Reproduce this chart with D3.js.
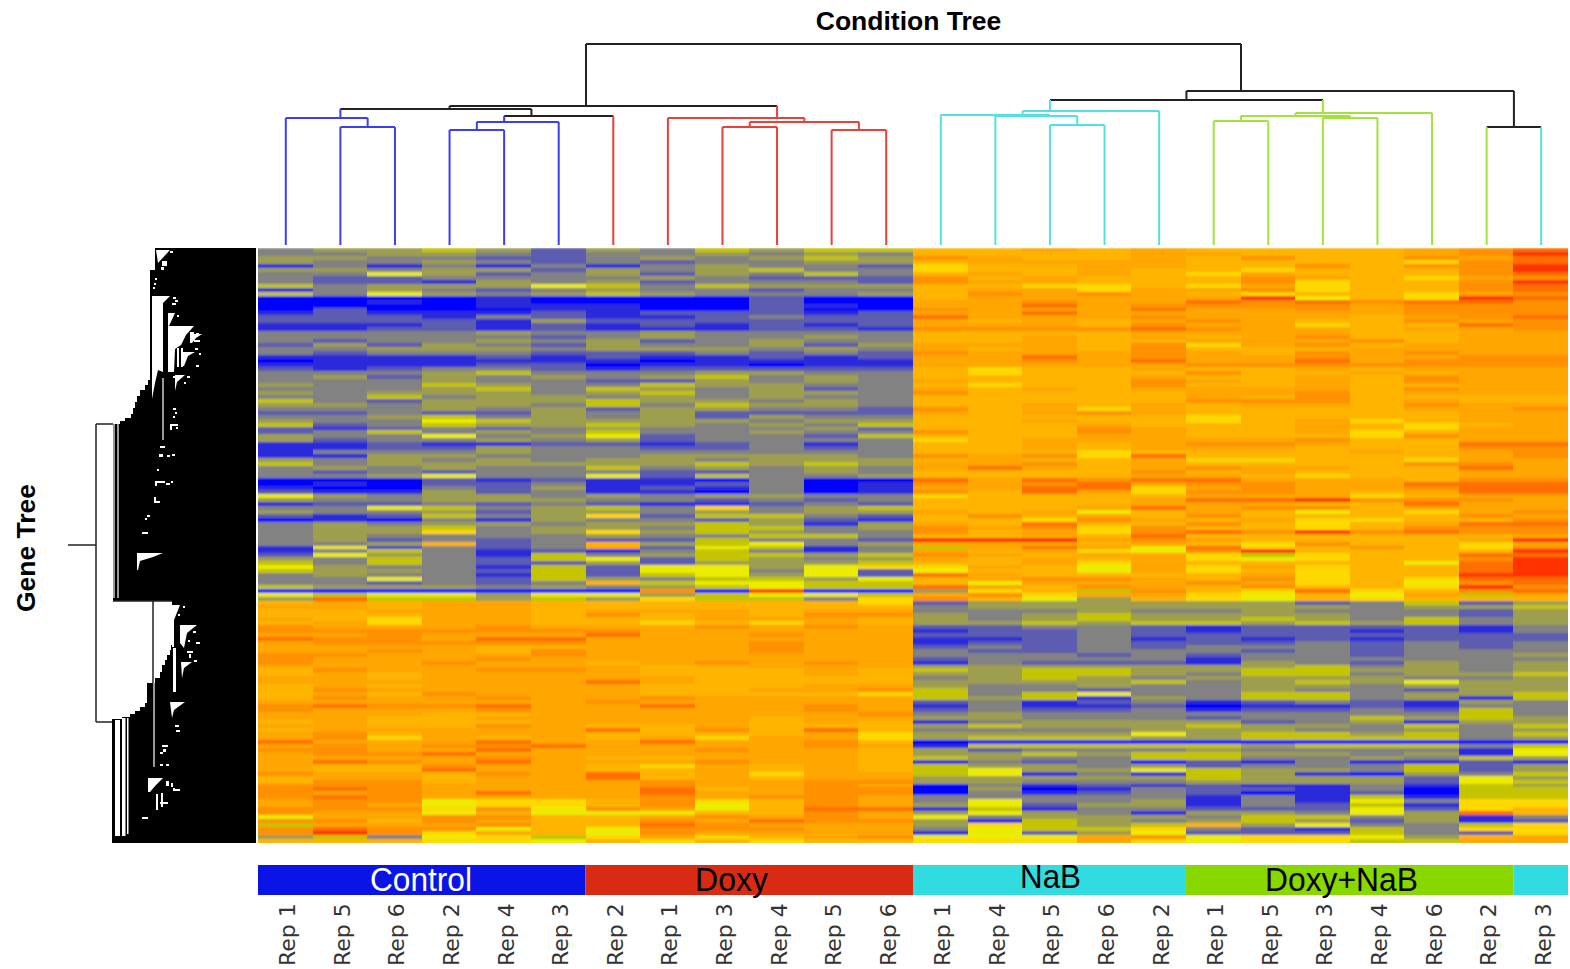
<!DOCTYPE html>
<html>
<head>
<meta charset="utf-8">
<title>Condition Tree</title>
<script src="https://cdn.jsdelivr.net/npm/d3@7"></script>
<style>
  html, body { margin: 0; background: #fff; overflow: hidden; }
  svg { display: block; }
</style>
</head>
<body>
<div id="chart"></div>
<script>
"use strict";

// one label per heatmap column, left to right
var repLabels = ["Rep 1","Rep 5","Rep 6","Rep 2","Rep 4","Rep 3",
                 "Rep 2","Rep 1","Rep 3","Rep 4","Rep 5","Rep 6",
                 "Rep 1","Rep 4","Rep 5","Rep 6","Rep 2",
                 "Rep 1","Rep 5","Rep 3","Rep 4","Rep 6","Rep 2",
                 "Rep 3"];
var colGroups = ["Control","Control","Control","Control","Control","Control",
                 "Doxy","Doxy","Doxy","Doxy","Doxy","Doxy",
                 "NaB","NaB","NaB","NaB","NaB",
                 "Doxy+NaB","Doxy+NaB","Doxy+NaB","Doxy+NaB","Doxy+NaB","Doxy+NaB",
                 "NaB"];

// [merge height, left, right], a plain number is a column index
var conditionTree = [201,
  [139,
    [136, [127, 0, [118, 1, 2]], [129, [123, [115, 3, 4], 5], 6]],
    [127, 7, [123, [118, 8, 9], [115, 10, 11]]]],
  [154,
    [145,
      [134, [130, 12, [129, 13, [120, 14, 15]]], 16],
      [132, [129, [124, 17, 18], [127, 19, 20]], 21]],
    [118, 22, 23]]];

// expression levels, one hex digit per cell (0 = low ... c = high)
var upperLeft = [
"344542435455","334432334343","443322343454","433432323344","131313134332",
"443442434533","336423424353","322333343222","322143423332","534446535444",
"134323433233","536434543334","000010000200","001010000200","000011100210",
"020001100200","121112122212","222132112322","222214222222","111212121212",
"112212111221","333343343333","333332343343","323343423433","242432433424",
"334443444343","323332223232","111121211212","011111101111","111122011011",
"212332122222","333453334433","342434345343","333433224343","433543354433",
"333453543423","434443453443","335344343433","532444544343","443443535443",
"333434244332","223224342222","334534342433","433654444344","523544543435",
"212323433342","235343533433","433634623325","423343423333","112112212313",
"112243322323","133343333333","114433344443","434343443444","534444445454",
"343433534343","323233322343","334633625334","000212110300","010223112301",
"100324121301","211423110301","643443434433","433444332323","122323211232",
"336534537345","433424434344","212534725532","010314332421","343443445414",
"344534435534","344734745433","343333433553","342323225332","334823845634",
"161323926513","135312135313","264315345545","435325625434","535322424445",
"643315266467","544325266362","343315256462","336325435546","332323856655",
"544434345655","0000000a0c00","656646645665","4b5545475537"];

var upperRight = [
"8898988889ab","8888998889ac","a98898a88a9b","8999988887ab","7889988a8aac",
"7889887888ac","8989879888ab","a89888a9879a","a99888a788ac","8877879788ab",
"899799a788ab","8a9a9878879a","899999c687cb","99a99bababba","99b9aaaa9aaa",
"a999b99a9aaa","99b999999aaa","b999a99989ab","98989a988a9a","9998a99788ba",
"aaaaba99899a","888899998899","8898989a8899","88988999a899","9998a79a8999",
"9898a8889999","a999a98a9a99","99b9a99a99aa","99a9b99b9aaa","99999aaaaaaa",
"878898898999","87888a889899","888898898a99","9888a9898a99","8788a8898899",
"989899998a99","a888899a8999","8888898a8888","88888aaa8988","889898998a99",
"a8979888899a","989a98888899","888887888899","889887897899","888988898789",
"888a98898799","a88a98897899","888998887a99","7899999a8899","88989aa988bb",
"8898999888aa","88878888989a","a9a7b888889a","898897788799","99a898888aa9",
"9b989a9988b9","8888a8988899","888899878899","b9babb9998aa","a9ab9aa99bbb",
"99bb79a99abb","a8b97aa989bb","788889997899","88889bbcaaa9","888899988b99",
"8889b9aa8999","98968986879a","8a898a8888a9","887a9897788a","98b88a8789bb",
"a9a7a8878aaa","a897abacabaa","8898b8888889","ccc9a988889c","9998987a8879",
"59b96b78a87a","98976ac8888c","a989975788bb","9898976788ac","8897988886bc",
"7986979788bc","6886978788bc","b988889788cc","89aa98a787bb","86999a9786ab",
"b98a98a887ca","4785a87b78ab","9a7997686959","a86487687888"];

var lowerLeft = [
"898998888887","998998888888","889998999899","888998a898aa","987998889998",
"897998878798","a999a999a9a9","aaaaaaa99999","99a999b99a99","baa9bb999999",
"9aaaaa999a99","999988999a99","99a98a999a99","aa999a999999","a999a9999999",
"a99a9989a9a9","999999988999","8a99aa988898","898999988898","998999998888",
"999999b98888","898999988899","8a999998899a","898a99988887","8a99a99a9999",
"999999a99999","abaab99b99a9","a999a99999a9","99988999999a","998899999899",
"898889999898","9988a9889888","899999b8a8b8","9a8999888897","9a7989897997",
"b999b99b99a8","9a9aab9999a9","aa99b999a998","9aab99999998","9999a9889998",
"9ba9b999a998","988a99879898","988b99889898","a998a9b89799","899899b89899",
"8aa8999a99aa","aaa9999a99a9","aba9999b89aa","a9a9b99b99aa","aba9999a9aa9",
"9aa6778a78a9","9a96778a68a9","aaa7a6a968bb","a996866688a9","699aa889a9a9",
"aa8a988a9baa","5999a88ba999","abaa686aaa99","aca7986a9999","45367579789a",
"888776878788"];

var lowerRight = [
"244444423524","344444443445","333433433324","434544443324","434544543534",
"445455454534","223321222213","122321221213","222322222222","112312121222",
"122322232323","232323332323","322333232333","333232332334","233331333333",
"132221432434","444444453434","545544554434","445543553445","345434444334",
"444453454644","433433443444","533233433244","535633553445","545143553415",
"231231232143","131120112133","232231223253","343333333353","443332335454",
"134444234144","454445443535","333344433434","444464554535","455544555534",
"000000000000","155555455535","423334333316","445455443416","543355334354",
"132302131121","544342333524","564465443524","561315410435","444445444264",
"443334444265","031212113154","040132213055","031232012055","333331315155",
"363341316377","462441325177","151332226278","4643144364b8","634443553413",
"415434542412","475458463357","365573215377","162462225327","6669a6776489",
"777976775599"];

var heatLevels  = [0, 1, 2, 3, 4, 5, 6, 7, 8, 9, 10, 11, 12];
var heatColours = ["#0000ff","#2c2cdc","#5c5cb0","#828282","#9e9e50","#c4c400","#ecec00",
                   "#ffd800","#ffb400","#ffa600","#ff9000","#ff6e00","#ff3000"];

var groupNames   = ["Control","Doxy","NaB","Doxy+NaB"];
var groupColours = ["#0a14e6","#d92b14","#30dce0","#88d800"];
var treeColours  = ["#3d3df5","#e8413a","#52e0e4","#a2e23a"];
var barLabelSpan = {"Control": [370, 472], "Doxy": [695, 768], "NaB": [1020, 1081], "Doxy+NaB": [1265, 1418]};

// gene tree, [position along the genes, merge depth]
var geneEdge = [[0,87],[22,82],[132,80],[137,77],[142,72],[148,69],[154,67],[160,65],[166,63],
  [170,57],[173,52],[176,45],[353,104],[397,103],[402,102],[407,99],[412,97],[417,94],[424,92],
  [430,87],[435,79],[455,77],[459,72],[463,67],[466,62],[469,54],[471,44],[595,44]];

var geneGaps = [
  [[88,2],[102,2],[90,15]],
  [[84,48],[102,48],[95,55],[95,124],[90,122],[87,135],[84,151]],
  [[100,65],[107,65],[101,78],[100,78]],
  [[100,78],[126,78],[118,87],[113,97],[107,101],[106,124],[100,124]],
  [[109,100],[111,100],[111,119],[109,119]],
  [[113,100],[115,100],[115,119],[113,119]],
  [[115,104],[127,104],[120,108],[116,118],[115,118]],
  [[122,86],[134,86],[128,90],[124,95],[122,95]],
  [[107,127],[117,127],[109,134],[107,143]],
  [[69,305],[95,305],[85,309],[72,313],[70,322],[69,322]],
  [[104,357],[112,357],[106,372],[106,399],[104,399]],
  [[112,377],[129,377],[119,385],[116,400],[112,395]],
  [[105,400],[108,400],[108,444],[105,444]],
  [[113,414],[124,414],[116,420],[114,430]],
  [[102,454],[117,454],[106,462],[104,470]],
  [[80,530],[95,530],[88,537],[82,544],[80,544]],
  [[47,472],[52,472],[52,588],[47,588]],
  [[54,470],[57.5,470],[57.5,588],[54,588]],
  [[59,470],[60.5,470],[60.5,586],[59,586]]
];

// [depth, position, depth size, position size]
var geneSpecks = [[102,3,3,2],[94,13,5,5],[93,19,3,3],[87,30,2,2],[86,35,2,2],[85,39,2,2],
  [105,49,3,2],[107,52,3,2],[104,55,4,2],[109,67,2,2],[122,84,4,2],[128,85,3,2],[126,92,6,2],
  [127,100,3,2],[131,105,2,2],[128,117,3,2],[105,128,3,2],[119,128,3,2],[116,134,2,2],
  [105,160,3,2],[107,164,2,2],[105,168,2,2],[102,176,8,2],[102,178,2,4],[108,179,2,2],
  [92,198,5,2],[91,206,4,3],[99,207,3,2],[104,206,3,2],[89,221,2,2],[87,233,10,2],[87,233,2,5],
  [98,235,4,2],[103,233,2,2],[86,249,2,6],[87,253,5,2],[79,267,3,2],[77,270,2,2],[74,284,6,2],
  [115,358,2,2],[110,366,2,2],[125,383,3,2],[120,392,2,2],[128,394,4,2],[119,403,6,2],[121,406,2,4],
  [126,412,3,2],[107,477,4,2],[108,482,4,2],[94,497,6,2],[95,501,3,3],[92,504,3,2],[92,516,3,2],
  [98,516,3,2],[98,533,3,5],[103,535,2,4],[105,540,2,3],[105,541,7,2],[88,546,2,16],[93,545,2,14],
  [92,554,8,2],[74,569,6,2]];

// thin pale lines, [depth, from position, to position]
var geneStripes = [[46,176,350],[50,176,350],[95,130,192],[86,435,519]];

// outer branches of the gene tree, [depth from, position from, depth to, position to]
var geneBranches = [[0,297,28,297],[28,176,28,474],[28,176,45,176],[28,474,44,474],
  [45,353,104,353],[85,353,85,435]];

var width = 1570, height = 969;

var x = d3.scaleBand().domain(d3.range(repLabels.length)).range([258, 1568]);
var rowIds = d3.range(upperLeft.length + lowerLeft.length);
var y = d3.scaleBand().domain(rowIds).range([248, 843]);
var colour = d3.scaleLinear().domain(heatLevels).range(heatColours);
var treeY = d3.scaleLinear().domain([0, 201]).range([245, 44]);
var geneX = d3.scaleLinear().domain([0, 189]).range([68, 257]);
var geneY = d3.scaleLinear().domain([0, 595]).range([248, 843]);

var svg = d3.select("#chart").append("svg").attr("width", width).attr("height", height);

// soft vertical smear, the reference is a scaled bitmap
svg.append("defs").append("filter")
  .attr("id", "smear")
  .attr("filterUnits", "userSpaceOnUse")
  .attr("x", 258).attr("y", 248).attr("width", 1310).attr("height", 595)
  .append("feGaussianBlur")
  .attr("stdDeviation", "0 0.9")
  .attr("edgeMode", "duplicate");

// Heatmap
var rows = upperLeft.map(function(r, i) { return r + upperRight[i]; })
  .concat(lowerLeft.map(function(r, i) { return r + lowerRight[i]; }));

var heat = svg.append("g").attr("shape-rendering", "crispEdges").attr("filter", "url(#smear)");
rows.forEach(function(row, r) {
  heat.selectAll(null)
    .data(row.split(""))
    .enter().append("rect")
    .attr("x", function(d, c) { return x(c); })
    .attr("y", y(r))
    .attr("width", x.bandwidth() + 0.5)
    .attr("height", y.bandwidth() + 0.5)
    .attr("fill", function(d) { return colour(parseInt(d, 16)); });
});

// Condition tree
var root = d3.hierarchy(conditionTree, function(d) { return Array.isArray(d) ? d.slice(1) : null; });
var treeG = svg.append("g").attr("fill", "none").attr("stroke-width", 2);

function groupOf(node) {
  var names = node.leaves().map(function(l) { return colGroups[l.data]; });
  return d3.group(names, function(n) { return n; }).size === 1 ? names[0] : null;
}
function treeStroke(node) {
  var g = groupOf(node);
  return g ? treeColours[groupNames.indexOf(g)] : "#222";
}
function nodeX(node) {
  return d3.mean(node.leaves(), function(l) { return x(l.data) + x.bandwidth() / 2; }) + 0.5;
}
function nodeH(node) {
  return node.children ? node.data[0] : 0;
}

root.descendants().filter(function(n) { return n.children; }).forEach(function(n) {
  treeG.append("line")
    .attr("x1", nodeX(n.children[0])).attr("x2", nodeX(n.children[1]))
    .attr("y1", treeY(nodeH(n))).attr("y2", treeY(nodeH(n)))
    .attr("stroke", treeStroke(n));
  n.children.forEach(function(c) {
    treeG.append("line")
      .attr("x1", nodeX(c)).attr("x2", nodeX(c))
      .attr("y1", treeY(nodeH(c))).attr("y2", treeY(nodeH(n)))
      .attr("stroke", treeStroke(c));
  });
});

// Gene tree
var geneG = svg.append("g");

geneG.append("path")
  .attr("d", d3.area()
    .curve(d3.curveStepBefore)
    .y(function(d) { return geneY(d[0]); })
    .x0(function(d) { return geneX(d[1]); })
    .x1(geneX(188))(geneEdge))
  .attr("fill", "#000");

geneG.selectAll(".gap").data(geneGaps).enter().append("path")
  .attr("class", "gap")
  .attr("d", d3.line()
    .x(function(d) { return geneX(d[0]); })
    .y(function(d) { return geneY(d[1]); }))
  .attr("fill", "#fff");

geneG.selectAll(".speck").data(geneSpecks).enter().append("rect")
  .attr("class", "speck")
  .attr("x", function(d) { return geneX(d[0]); })
  .attr("y", function(d) { return geneY(d[1]); })
  .attr("width", function(d) { return d[2]; })
  .attr("height", function(d) { return d[3]; })
  .attr("fill", "#fff");

geneG.selectAll(".stripe").data(geneStripes).enter().append("line")
  .attr("class", "stripe")
  .attr("x1", function(d) { return geneX(d[0]); })
  .attr("x2", function(d) { return geneX(d[0]); })
  .attr("y1", function(d) { return geneY(d[1]); })
  .attr("y2", function(d) { return geneY(d[2]); })
  .attr("stroke", "#ccc")
  .attr("stroke-width", 1.5);

geneG.selectAll(".branch").data(geneBranches).enter().append("line")
  .attr("class", "branch")
  .attr("x1", function(d) { return geneX(d[0]); })
  .attr("y1", function(d) { return geneY(d[1]); })
  .attr("x2", function(d) { return geneX(d[2]); })
  .attr("y2", function(d) { return geneY(d[3]); })
  .attr("stroke", "#222")
  .attr("stroke-width", 1.5);

// Condition bar, one block per run of equal neighbours
var runs = [];
colGroups.forEach(function(g, i) {
  if (runs.length && runs[runs.length - 1].name === g) runs[runs.length - 1].end = i;
  else runs.push({name: g, start: i, end: i});
});

var barG = svg.append("g");
barG.selectAll("rect").data(runs).enter().append("rect")
  .attr("x", function(d) { return x(d.start); })
  .attr("y", 865)
  .attr("width", function(d) { return x(d.end) + x.bandwidth() - x(d.start); })
  .attr("height", 30)
  .attr("fill", function(d) { return groupColours[groupNames.indexOf(d.name)]; });

var barLabels = runs.filter(function(d) { return d.end > d.start; });
barG.selectAll("text").data(barLabels).enter().append("text")
  .attr("x", function(d) { return barLabelSpan[d.name][0]; })
  .attr("y", function(d) { return d.name === "NaB" ? 888 : 891; })
  .attr("textLength", function(d) { return barLabelSpan[d.name][1] - barLabelSpan[d.name][0]; })
  .attr("lengthAdjust", "spacingAndGlyphs")
  .attr("font-family", "Liberation Sans, Arial, sans-serif")
  .attr("font-size", 34)
  .attr("fill", function(d) { return d.name === "Control" ? "#fff" : "#000"; })
  .text(function(d) { return d.name; });

// Column labels
svg.append("g").selectAll("text").data(repLabels).enter().append("text")
  .attr("transform", function(d, i) {
    return "translate(" + (x(i) + x.bandwidth() / 2 + 10) + ",966) rotate(-90)";
  })
  .attr("font-family", "DejaVu Sans, sans-serif")
  .attr("font-size", 22)
  .attr("fill", "#333")
  .text(function(d) { return d; });

// Titles
svg.append("text")
  .attr("x", 908.5).attr("y", 30)
  .attr("text-anchor", "middle")
  .attr("font-family", "Liberation Sans, Arial, sans-serif")
  .attr("font-weight", "bold")
  .attr("font-size", 26.5)
  .text("Condition Tree");

svg.append("text")
  .attr("transform", "translate(35,548) rotate(-90)")
  .attr("text-anchor", "middle")
  .attr("font-family", "Liberation Sans, Arial, sans-serif")
  .attr("font-weight", "bold")
  .attr("font-size", 26.5)
  .text("Gene Tree");
</script>
</body>
</html>
